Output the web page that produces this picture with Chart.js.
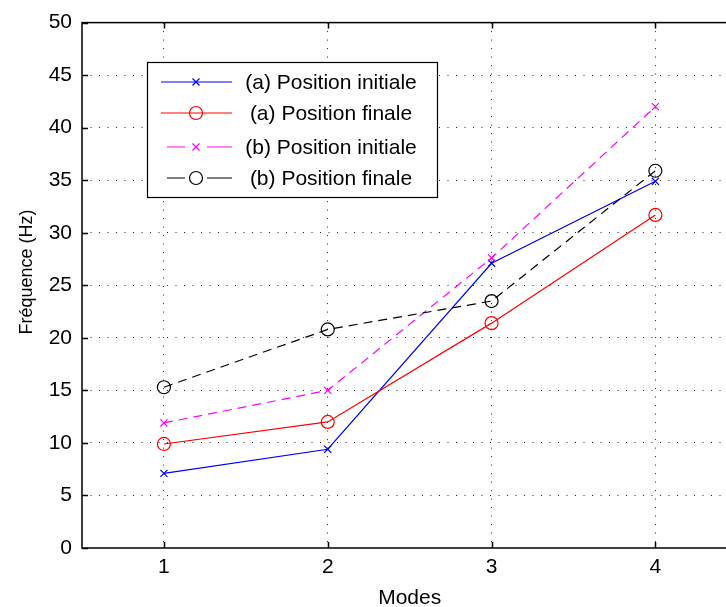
<!DOCTYPE html>
<html><head><meta charset="utf-8">
<script src="https://cdn.jsdelivr.net/npm/chart.js@4/dist/chart.umd.min.js"></script>
<style>html,body{margin:0;padding:0;overflow:hidden;background:#fff;width:726px;height:607px}canvas{display:block}</style>
</head><body>
<canvas id="c" width="745" height="607" style="width:745px;height:607px"></canvas>
<script>
// ---- data ----
const modes = [1, 2, 3, 4];
const posInitialeA = [7.1, 9.4, 27.1, 34.9];
const posFinaleA = [9.9, 12.0, 21.4, 31.7];
const posInitialeB = [11.9, 15.0, 27.6, 42.0];
const posFinaleB = [15.3, 20.8, 23.5, 35.9];
const seriesLabels = ['(a) Position initiale', '(a) Position finale', '(b) Position initiale', '(b) Position finale'];
const xTickValues = [1, 2, 3, 4];
const yTickValues = [0, 5, 10, 15, 20, 25, 30, 35, 40, 45, 50];
const xTitle = 'Modes';
const yTitle = 'Fréquence (Hz)';

const FONT = '"Liberation Sans", Arial, sans-serif';
const pts = arr => arr.map((v, i) => ({x: modes[i], y: v}));

const datasets = [
  {label: seriesLabels[0], data: pts(posInitialeA), borderColor: '#0000ff', borderDash: [], pointStyle: 'crossRot', pointRadius: 5, order: 4},
  {label: seriesLabels[1], data: pts(posFinaleA), borderColor: '#ff0000', borderDash: [], pointStyle: 'circle', pointRadius: 6.5, order: 3},
  {label: seriesLabels[2], data: pts(posInitialeB), borderColor: '#ff00ff', borderDash: [9, 6], pointStyle: 'crossRot', pointRadius: 5, order: 2},
  {label: seriesLabels[3], data: pts(posFinaleB), borderColor: '#000000', borderDash: [9, 6], pointStyle: 'circle', pointRadius: 6.5, order: 1}
].map(d => Object.assign(d, {
  borderWidth: 1.2, pointBorderColor: d.borderColor, pointBackgroundColor: 'rgba(0,0,0,0)',
  pointBorderWidth: 1.2, pointHoverRadius: d.pointRadius, fill: false, tension: 0, showLine: true
}));

function drawMarker(ctx, style, x, y, r, color) {
  ctx.save();
  ctx.strokeStyle = color; ctx.lineWidth = 1.2; ctx.setLineDash([]);
  ctx.beginPath();
  if (style === 'circle') {
    ctx.arc(x, y, r, 0, Math.PI * 2);
  } else {
    const d = r * 0.7071;
    ctx.moveTo(x - d, y - d); ctx.lineTo(x + d, y + d);
    ctx.moveTo(x - d, y + d); ctx.lineTo(x + d, y - d);
  }
  ctx.stroke();
  ctx.restore();
}

const framePlugin = {
  id: 'frame',
  beforeDatasetsDraw(chart) {
    const {ctx, chartArea: a, scales: {x, y}} = chart;
    ctx.save();
    ctx.strokeStyle = '#000'; ctx.lineWidth = 1.5; ctx.setLineDash([]);
    ctx.strokeRect(a.left, a.top, a.right - a.left, a.bottom - a.top);
    ctx.beginPath();
    x.ticks.forEach(t => {
      const px = Math.round(x.getPixelForValue(t.value)) + 0.5;
      ctx.moveTo(px, a.bottom); ctx.lineTo(px, a.bottom - 6);
      ctx.moveTo(px, a.top); ctx.lineTo(px, a.top + 6);
    });
    y.ticks.forEach(t => {
      const py = Math.round(y.getPixelForValue(t.value)) + 0.5;
      ctx.moveTo(a.left, py); ctx.lineTo(a.left + 6, py);
    });
    ctx.stroke();
    ctx.restore();
  },
  afterDraw(chart) {
    const ctx = chart.ctx;
    // y axis title
    ctx.save();
    ctx.translate(27, 272);
    ctx.rotate(-Math.PI / 2);
    ctx.fillStyle = '#000';
    ctx.font = '18px ' + FONT;
    ctx.textAlign = 'center'; ctx.textBaseline = 'middle';
    ctx.fillText(yTitle, 0, 0);
    ctx.restore();
    // legend
    const bx = 147, by = 62, bw = 290, bh = 135;
    ctx.save();
    ctx.fillStyle = '#fff'; ctx.fillRect(bx, by, bw, bh);
    ctx.strokeStyle = '#000'; ctx.lineWidth = 1.2; ctx.setLineDash([]);
    ctx.strokeRect(bx + 0.5, by + 0.5, bw, bh);
    chart.data.datasets.forEach((ds, i) => {
      const ry = [82, 113, 147, 178][i];
      ctx.save();
      ctx.strokeStyle = ds.borderColor; ctx.lineWidth = 1.2;
      ctx.setLineDash([]);
      ctx.beginPath();
      if (ds.borderDash && ds.borderDash.length) {
        ctx.moveTo(167, ry); ctx.lineTo(185, ry);
        ctx.moveTo(207, ry); ctx.lineTo(232, ry);
      } else {
        ctx.moveTo(161, ry); ctx.lineTo(232, ry);
      }
      ctx.stroke();
      ctx.restore();
      drawMarker(ctx, ds.pointStyle, 196, ry, ds.pointRadius, ds.borderColor);
      ctx.fillStyle = '#000';
      ctx.font = '21px ' + FONT;
      ctx.textAlign = 'center'; ctx.textBaseline = 'middle';
      ctx.fillText(ds.label, 331, ry + 1);
    });
    ctx.restore();
  }
};

new Chart(document.getElementById('c'), {
  type: 'line',
  data: {datasets},
  options: {
    responsive: false, animation: false,
    layout: {padding: {left: 0, top: 19, right: 3, bottom: 0}},
    plugins: {legend: {display: false}, tooltip: {enabled: false}},
    scales: {
      x: {
        type: 'linear', min: 0.5, max: 4.5,
        afterBuildTicks: s => { s.ticks = xTickValues.map(v => ({value: v})); },
        afterFit: s => { s.height = 59; },
        border: {display: false, dash: [1, 7.5]},
        grid: {color: '#222', lineWidth: 1, drawTicks: false},
        ticks: {color: '#000', font: {family: FONT, size: 21}, padding: 7, maxRotation: 0},
        title: {display: true, text: xTitle, color: '#000', font: {family: FONT, size: 21}, padding: {top: 0, bottom: -4}}
      },
      y: {
        type: 'linear', min: 0, max: 50,
        afterBuildTicks: s => { s.ticks = yTickValues.map(v => ({value: v})); },
        afterFit: s => { s.width = 82; },
        border: {display: false, dash: [1, 7.5]},
        grid: {color: ctx => (ctx.tick && (ctx.tick.value === 0 || ctx.tick.value === 50)) ? 'rgba(0,0,0,0)' : '#222', lineWidth: 1, drawTicks: false},
        ticks: {color: '#000', font: {family: FONT, size: 21}, padding: 10},
        title: {display: false}
      }
    }
  },
  plugins: [framePlugin]
});
</script>
</body></html>
